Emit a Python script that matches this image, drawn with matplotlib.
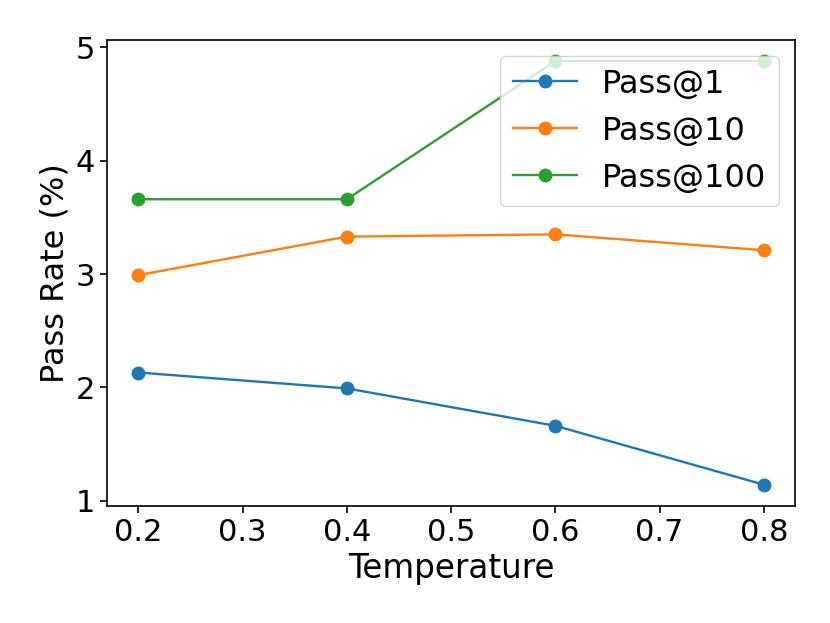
import matplotlib
matplotlib.use("Agg")
import matplotlib.pyplot as plt

temperature = [0.2, 0.4, 0.6, 0.8]
pass_at_1 = [2.13, 1.99, 1.66, 1.14]
pass_at_10 = [2.99, 3.33, 3.35, 3.21]
pass_at_100 = [3.66, 3.66, 4.88, 4.88]

plt.rcParams['font.size'] = 22
plt.rcParams['axes.linewidth'] = 1.2

fig, ax = plt.subplots(figsize=(8.3, 6.23), dpi=100)
fig.subplots_adjust(left=0.129, right=0.958, bottom=0.188, top=0.936)

ax.plot(temperature, pass_at_1, marker='o', lw=1.7, ms=9, label='Pass@1')
ax.plot(temperature, pass_at_10, marker='o', lw=1.7, ms=9, label='Pass@10')
ax.plot(temperature, pass_at_100, marker='o', lw=1.7, ms=9, label='Pass@100')

ax.set_xlabel('Temperature', fontsize=23.5)
ax.set_ylabel('Pass Rate (%)', fontsize=23)
ax.set_yticks([1, 2, 3, 4, 5])
ax.tick_params(labelsize=22, length=5, width=1.2)
ax.legend(loc='upper right', fontsize=23)

fig.savefig('out.png', dpi=100)
